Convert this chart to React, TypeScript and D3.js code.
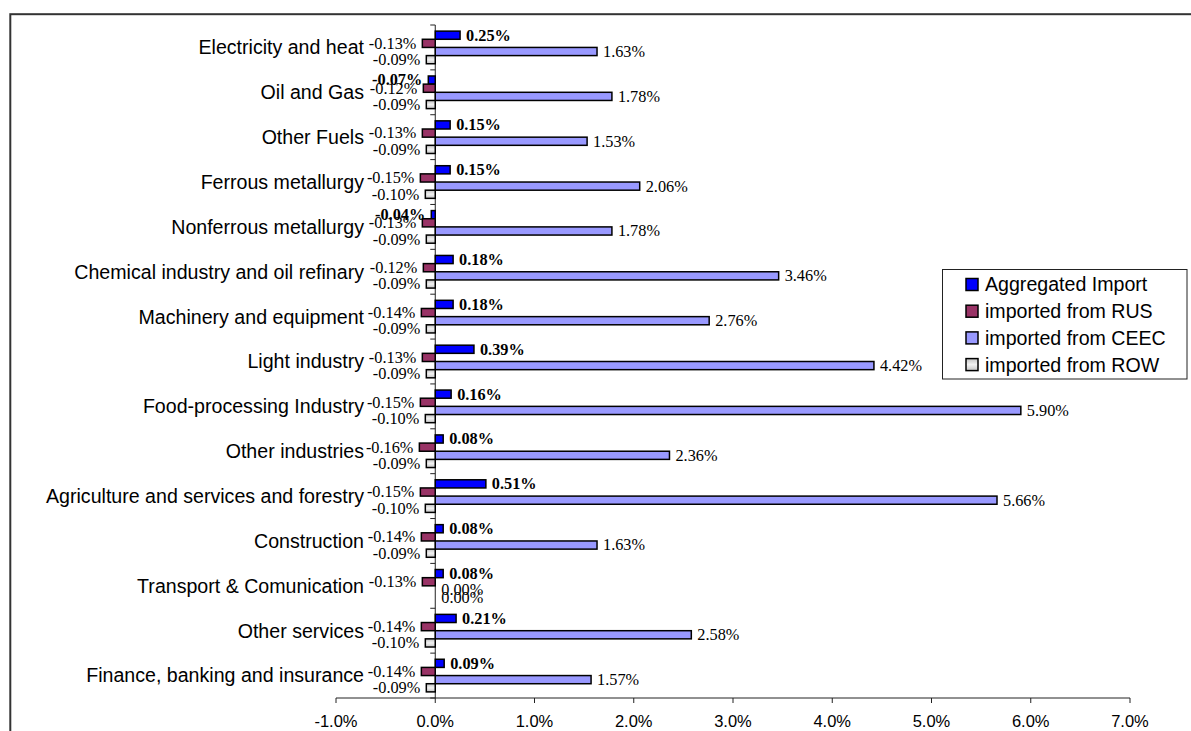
import React from "react";
import * as d3 from "d3";

// Sectors, top to bottom
const categories = [
  "Electricity and heat",
  "Oil and Gas",
  "Other Fuels",
  "Ferrous metallurgy",
  "Nonferrous metallurgy",
  "Chemical industry and oil refinary",
  "Machinery and equipment",
  "Light industry",
  "Food-processing Industry",
  "Other industries",
  "Agriculture and services and forestry",
  "Construction",
  "Transport & Comunication",
  "Other services",
  "Finance, banking and insurance",
];

const seriesNames = [
  "Aggregated Import",
  "imported from RUS",
  "imported from CEEC",
  "imported from ROW",
];

// Percent changes per sector
const aggregatedImport = [0.25, -0.07, 0.15, 0.15, -0.04, 0.18, 0.18, 0.39, 0.16, 0.08, 0.51, 0.08, 0.08, 0.21, 0.09];
const importedFromRUS = [-0.13, -0.12, -0.13, -0.15, -0.13, -0.12, -0.14, -0.13, -0.15, -0.16, -0.15, -0.14, -0.13, -0.14, -0.14];
const importedFromCEEC = [1.63, 1.78, 1.53, 2.06, 1.78, 3.46, 2.76, 4.42, 5.9, 2.36, 5.66, 1.63, 0.0, 2.58, 1.57];
const importedFromROW = [-0.09, -0.09, -0.09, -0.1, -0.09, -0.09, -0.09, -0.09, -0.1, -0.09, -0.1, -0.09, 0.0, -0.1, -0.09];

const xTicks = [-1, 0, 1, 2, 3, 4, 5, 6, 7];

const seriesValues = [aggregatedImport, importedFromRUS, importedFromCEEC, importedFromROW];
const seriesFill = ["#0000FF", "#993366", "#9999FF", "url(#rowGrad)"];

const W = 1191;
const H = 731;

export default function App() {
  const x = d3.scaleLinear().domain([-1, 7]).range([336, 1130]);
  const y = d3.scaleBand<string>().domain(categories).range([25, 698]).padding(0);
  const inner = d3
    .scaleBand<string>()
    .domain(seriesNames)
    .range([0, y.bandwidth()])
    .paddingInner(0)
    .paddingOuter(0.75);

  const x0 = x(0);
  const serif = "'Liberation Serif', 'Times New Roman', serif";
  const sans = "'Liberation Sans', Arial, sans-serif";

  const bars: React.ReactNode[] = [];
  const labels: React.ReactNode[] = [];
  categories.forEach((cat, ci) => {
    seriesNames.forEach((s, si) => {
      const v = seriesValues[si][ci];
      const top = (y(cat) as number) + (inner(s) as number);
      const h = inner.bandwidth();
      const xv = x(v);
      const left = Math.min(xv, x0);
      const w = Math.abs(xv - x0);
      if (w > 0) {
        bars.push(
          <rect
            key={`b-${ci}-${si}`}
            x={left}
            y={top}
            width={w}
            height={h}
            fill={seriesFill[si]}
            stroke="#000"
            strokeWidth={1.5}
          />
        );
      }
      const cy = top + h / 2;
      const neg = v < 0;
      labels.push(
        <text
          key={`l-${ci}-${si}`}
          x={neg ? xv - 6 : xv + 6}
          y={cy + 5.4}
          textAnchor={neg ? "end" : "start"}
          fontFamily={serif}
          fontSize={16.3}
          fontWeight={si === 0 ? "bold" : "normal"}
          fill="#000"
        >
          {v.toFixed(2) + "%"}
        </text>
      );
    });
  });

  const boundaries = d3.range(categories.length + 1).map((i) => 25 + i * y.step());

  const legendX = 942.5;
  const legendY = 269.5;
  const legendRows = [284.5, 311.2, 337.9, 364.6];

  return (
    <svg
      width={W}
      height={H}
      style={{ position: "absolute", left: 0, top: 0, display: "block", background: "#fff" }}
    >
      <defs>
        <linearGradient id="rowGrad" x1="0" y1="0" x2="0" y2="1">
          <stop offset="0%" stopColor="#c4c4c4" />
          <stop offset="50%" stopColor="#f2f2f2" />
          <stop offset="100%" stopColor="#c4c4c4" />
        </linearGradient>
      </defs>

      {/* chart frame */}
      <rect x={10.3} y={14.2} width={1300} height={900} fill="#fff" stroke="#333" strokeWidth={2} />

      {/* horizontal value axis */}
      <line x1={x(-1)} x2={x(7)} y1={698} y2={698} stroke="#222" strokeWidth={1} />
      {xTicks.map((t) => (
        <g key={`xt-${t}`}>
          <line x1={x(t)} x2={x(t)} y1={698} y2={703} stroke="#222" strokeWidth={1} />
          <text x={x(t)} y={727.3} textAnchor="middle" fontFamily={sans} fontSize={16.5} fill="#000">
            {t.toFixed(1) + "%"}
          </text>
        </g>
      ))}

      {/* category axis at zero */}
      <line x1={x0} x2={x0} y1={25} y2={698} stroke="#222" strokeWidth={1} />
      {boundaries.map((b, i) => (
        <line key={`yt-${i}`} x1={x0 - 5} x2={x0} y1={b} y2={b} stroke="#222" strokeWidth={1} />
      ))}

      {bars}
      {labels}

      {categories.map((c) => (
        <text
          key={`c-${c}`}
          x={364}
          y={(y(c) as number) + y.bandwidth() / 2 + 6.9}
          textAnchor="end"
          fontFamily={sans}
          fontSize={19.6}
          fill="#000"
        >
          {c}
        </text>
      ))}

      {/* legend */}
      <rect x={legendX} y={legendY} width={244.5} height={109.5} fill="#fff" stroke="#222" strokeWidth={1} />
      {seriesNames.map((s, i) => (
        <g key={`lg-${s}`}>
          <rect
            x={966}
            y={legendRows[i] - 6}
            width={12}
            height={12}
            fill={seriesFill[i]}
            stroke="#000"
            strokeWidth={1.5}
          />
          <text x={985} y={legendRows[i] + 6.9} fontFamily={sans} fontSize={19.6} fill="#000">
            {s}
          </text>
        </g>
      ))}
    </svg>
  );
}
